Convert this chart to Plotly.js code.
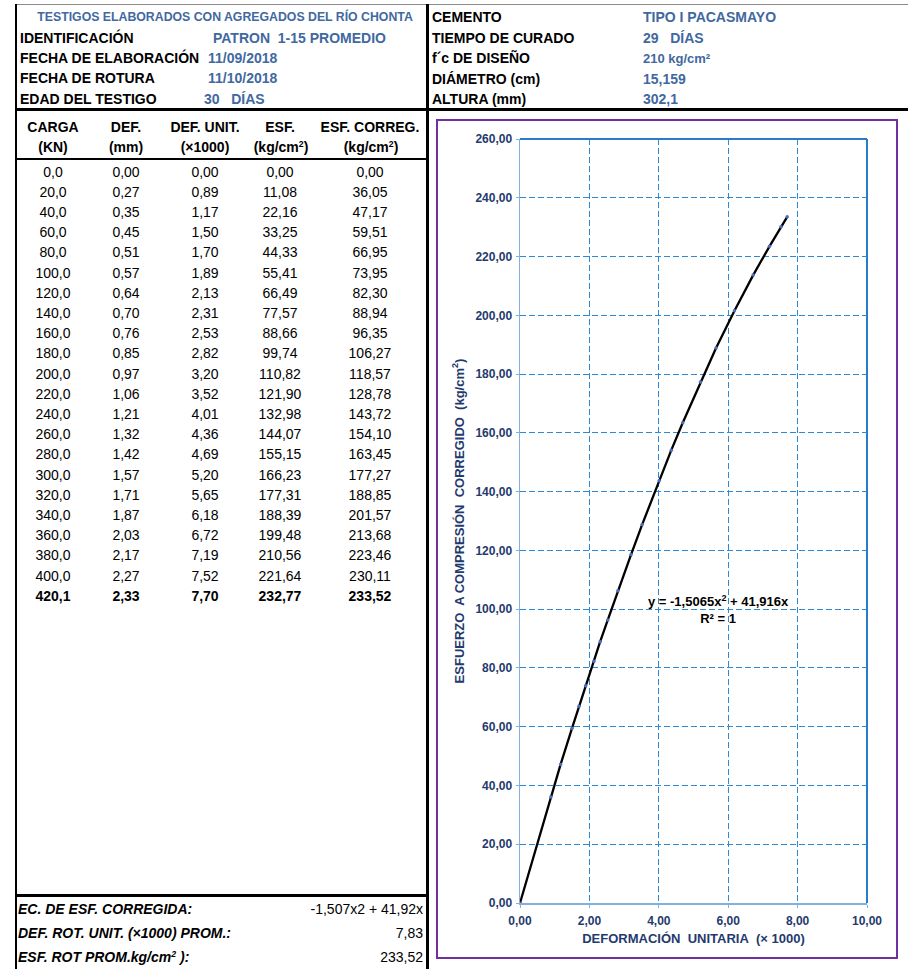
<!DOCTYPE html>
<html><head><meta charset="utf-8">
<script src="https://cdn.plot.ly/plotly-3.0.1.min.js"></script>
<style>
body{margin:0;background:#fff;}
#page{position:relative;width:908px;height:969px;overflow:hidden;font-family:"Liberation Sans",Arial,sans-serif;color:#000;background:#fff;}
.t{position:absolute;white-space:pre;line-height:1;transform:translateY(-50%);font-size:14px;}
.c{transform:translate(-50%,-50%);}
.r{transform:translate(-100%,-50%);}
.b{font-weight:bold;}
.i{font-style:italic;}
.blue{color:#41689f;}
.ln{position:absolute;background:#000;}
sup{font-size:0.62em;vertical-align:0.55em;line-height:0;}
#plot{position:absolute;left:437px;top:120px;width:460px;height:838px;}
#frame{position:absolute;left:436px;top:119px;width:462px;height:840px;box-sizing:border-box;border:2px solid #7030a0;pointer-events:none;}
</style>
</head><body>
<div id="page">
  <div id="plot"></div>
  <div id="frame"></div>
</div>
<script>
// ---------- data ----------
const carga   = [0.0,20.0,40.0,60.0,80.0,100.0,120.0,140.0,160.0,180.0,200.0,220.0,240.0,260.0,280.0,300.0,320.0,340.0,360.0,380.0,400.0,420.1];
const def     = [0.00,0.27,0.35,0.45,0.51,0.57,0.64,0.70,0.76,0.85,0.97,1.06,1.21,1.32,1.42,1.57,1.71,1.87,2.03,2.17,2.27,2.33];
const defUnit = [0.00,0.89,1.17,1.50,1.70,1.89,2.13,2.31,2.53,2.82,3.20,3.52,4.01,4.36,4.69,5.20,5.65,6.18,6.72,7.19,7.52,7.70];
const esf     = [0.00,11.08,22.16,33.25,44.33,55.41,66.49,77.57,88.66,99.74,110.82,121.90,132.98,144.07,155.15,166.23,177.31,188.39,199.48,210.56,221.64,232.77];
const esfCorr = [0.00,36.05,47.17,59.51,66.95,73.95,82.30,88.94,96.35,106.27,118.57,128.78,143.72,154.10,163.45,177.27,188.85,201.57,213.68,223.46,230.11,233.52];

const headLeftLabels  = ['IDENTIFICACIÓN','FECHA DE ELABORACIÓN','FECHA DE ROTURA','EDAD DEL TESTIGO'];
const headLeftValues  = ['PATRON  1-15 PROMEDIO','11/09/2018','11/10/2018','30   DÍAS'];
const headRightLabels = ['CEMENTO','TIEMPO DE CURADO','f´c DE DISEÑO','DIÁMETRO (cm)','ALTURA (mm)'];
const headRightValues = ['TIPO I PACASMAYO','29   DÍAS','210 kg/cm²','15,159','302,1'];
const colHead1 = ['CARGA','DEF.','DEF. UNIT.','ESF.','ESF. CORREG.'];
const colHead2 = ['(KN)','(mm)','(×1000)','(kg/cm<sup>2</sup>)','(kg/cm<sup>2</sup>)'];
const footLabels = ['EC. DE ESF. CORREGIDA:','DEF. ROT. UNIT. (×1000) PROM.:','ESF. ROT PROM.kg/cm<sup>2</sup> ):'];
const footValues = ['-1,507x2 + 41,92x','7,83','233,52'];
const trendText = 'y = -1,5065x<sup>2</sup> + 41,916x<br>R² = 1';

// ---------- table (HTML) ----------
const page = document.getElementById('page');
function T(html, x, y, cls, extra){
  const d = document.createElement('div');
  d.className = 't ' + (cls||'');
  d.style.left = x + 'px'; d.style.top = y + 'px';
  if (extra) Object.assign(d.style, extra);
  d.innerHTML = html;
  page.appendChild(d);
}
function L(x, y, w, h, col){
  const d = document.createElement('div');
  d.className = 'ln';
  Object.assign(d.style, {left:x+'px', top:y+'px', width:w+'px', height:h+'px'});
  if (col) d.style.background = col;
  page.appendChild(d);
}
const fmt = (v,d) => v.toFixed(d).replace('.', ',');

// lines
L(15, 4, 893, 1, '#8c8c8c');
L(15, 4, 2, 965);
L(426, 4, 2.5, 965);
L(15, 108, 893, 2.6);
L(15, 157.5, 413, 2.6);
L(15, 894, 413, 2.8);

// header
T('TESTIGOS ELABORADOS CON AGREGADOS DEL RÍO CHONTA', 225, 16.5, 'b blue c', {fontSize:'12.3px'});
const hy = [38, 58, 78, 99];
headLeftLabels.forEach((s,i)=>T(s, 20, hy[i], 'b'));
const hvx = [213, 208, 208, 204];
headLeftValues.forEach((s,i)=>T(s, hvx[i], hy[i], 'b blue'));
const hry = [17, 38, 58, 79, 99];
headRightLabels.forEach((s,i)=>T(s, 432, hry[i], 'b'));
headRightValues.forEach((s,i)=>T(s, 643, hry[i], 'b blue', i===2?{fontSize:'13px'}:null));

// column headers
const colX = [53, 126, 205, 280, 370];
colHead1.forEach((s,i)=>T(s, colX[i], 127, 'b c'));
colHead2.forEach((s,i)=>T(s, colX[i]+ (i>=3?1:0), 146.5, 'b c'));

// data rows
carga.forEach((v,i)=>{
  const y = 171.5 + i*20.2;
  const cls = 'c' + (i===carga.length-1 ? ' b' : '');
  T(fmt(v,1), colX[0], y, cls);
  T(fmt(def[i],2), colX[1], y, cls);
  T(fmt(defUnit[i],2), colX[2], y, cls);
  T(fmt(esf[i],2), colX[3], y, cls);
  T(fmt(esfCorr[i],2), colX[4], y, cls);
});

// footer
const fy = [908.5, 933, 957];
footLabels.forEach((s,i)=>T(s, 18, fy[i], 'b i'));
footValues.forEach((s,i)=>T(s, 423, fy[i], 'r'));

// ---------- chart ----------
const navy = '#1f3a6e';
const gridBlue = '#2f8ad6';
const markerColors = defUnit.map((v,i)=> i===0 ? '#e0201b' : '#4a6fc4');

const traces = [{
  x: defUnit, y: esfCorr, type:'scatter', mode:'lines+markers',
  line:{color:'#000', width:2.3},
  marker:{color:markerColors, size:3.5},
  hoverinfo:'skip'
}];

const layout = {
  width:460, height:838,
  margin:{l:83, r:30, t:19, b:55, pad:0},
  paper_bgcolor:'rgba(0,0,0,0)', plot_bgcolor:'#fff',
  separators:',.',
  showlegend:false,
  font:{family:'"Liberation Sans", Arial, sans-serif', color:navy, size:12},
  xaxis:{
    range:[0,10], tick0:0, dtick:2, tickformat:'.2f',
    showgrid:true, gridcolor:gridBlue, griddash:'6px,3px', gridwidth:1,
    showline:true, linecolor:'#7fb0de', linewidth:1.5, zeroline:false,
    ticks:'outside', ticklen:3, tickcolor:'#7fb0de', ticklabelstandoff:3,
    tickfont:{size:12, color:navy, weight:'bold'},
    title:{text:'DEFORMACIÓN\u00a0 UNITARIA\u00a0 (× 1000)', font:{size:13, color:navy, weight:'bold'}, standoff:7},
    automargin:false
  },
  yaxis:{
    range:[0,260], tick0:0, dtick:20, tickformat:'.2f',
    showgrid:true, gridcolor:gridBlue, griddash:'6px,3px', gridwidth:1,
    showline:true, linecolor:'#7fb0de', linewidth:1.5, zeroline:false,
    ticks:'outside', ticklen:3, tickcolor:'#7fb0de', ticklabelstandoff:1,
    tickfont:{size:12, color:navy, weight:'bold'},
    title:{text:'ESFUERZO\u00a0 A COMPRESIÓN\u00a0 CORREGIDO\u00a0 (kg/cm<sup>2</sup>)', font:{size:13, color:navy, weight:'bold'}, standoff:8},
    automargin:false
  },
  shapes:[
    {type:'line', xref:'paper', yref:'paper', x0:0, x1:1, y0:1, y1:1, line:{color:'#2a7cc7', width:2}},
    {type:'line', xref:'paper', yref:'paper', x0:1, x1:1, y0:0, y1:1, line:{color:'#2a7cc7', width:2}}
  ],
  annotations:[{
    x:5.71, y:99.9, xref:'x', yref:'y', text:trendText, showarrow:false,
    xanchor:'center', yanchor:'middle', align:'center',
    font:{size:13, color:'#000', weight:'bold'}
  }]
};

Plotly.newPlot('plot', traces, layout, {staticPlot:true, displayModeBar:false});
</script>
</body></html>
